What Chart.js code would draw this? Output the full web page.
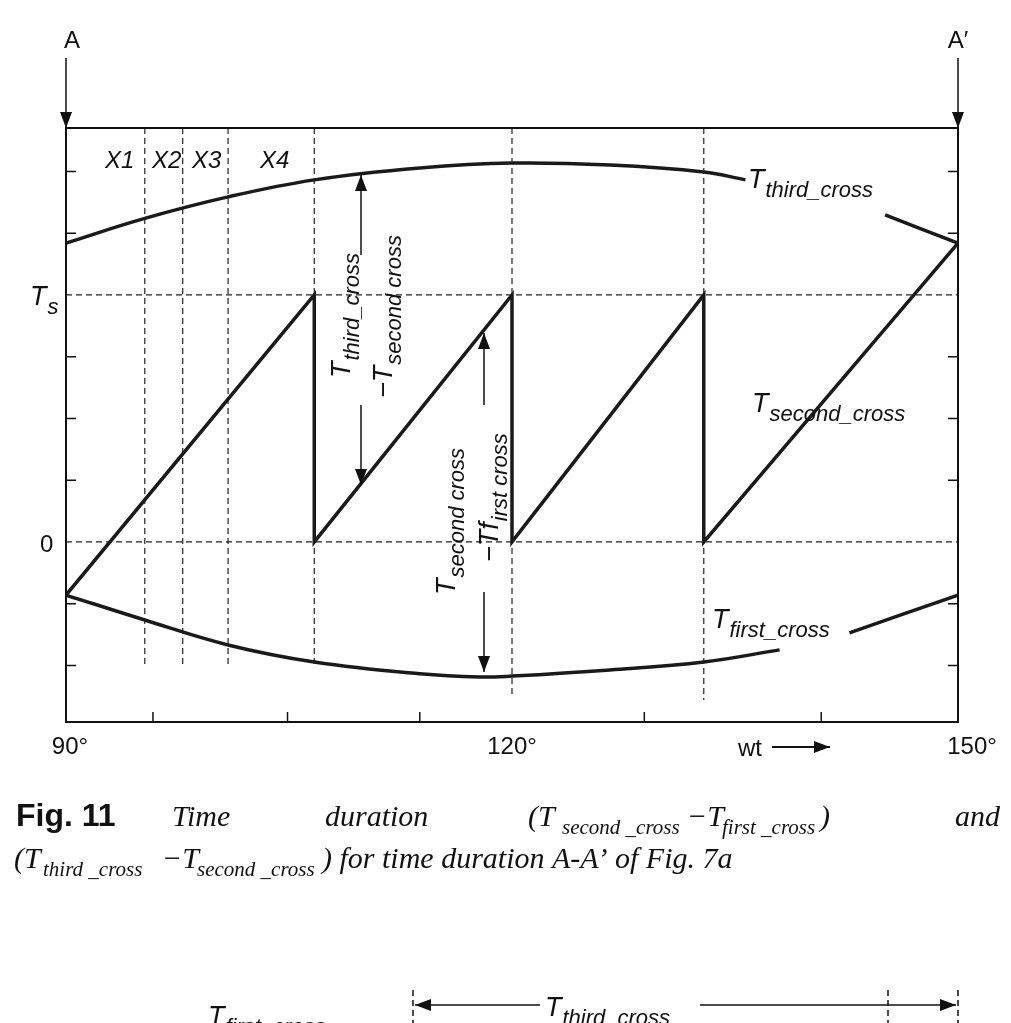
<!DOCTYPE html>
<html><head><meta charset="utf-8">
<script src="https://cdn.jsdelivr.net/npm/chart.js@4"></script>
<style>html,body{margin:0;padding:0;background:#fff}#w{width:1011px;height:1023px}</style>
</head><body><div id="w"><canvas id="c"></canvas></div>
<script>
const sawX=[90,106.7,106.7,120,120,132.9,132.9,150];
const sawY=[-0.215,1,0,1,0,1,0,1.21];
const thirdX=[90,95.3,100.9,106.7,113.8,120,126.6,132.9,135.7,null,145.1,150];
const thirdY=[1.21,1.31,1.397,1.466,1.514,1.534,1.526,1.498,1.466,null,1.324,1.21];
const firstX=[90,95.3,100.9,106.7,113.8,117.8,120,126.6,132.9,138,null,142.7,150];
const firstY=[-0.215,-0.316,-0.417,-0.486,-0.534,-0.547,-0.543,-0.518,-0.486,-0.437,null,-0.368,-0.215];
const xTickLabels=[[90,'90°'],[120,'120°'],[150,'150°']];
const xTicks=[95.85,104.9,113.8,128.9,140.8];
const yTicks=[-0.5,-0.25,0.25,0.5,0.75,1.25,1.5];
const vDash=[[95.3,-0.5],[97.85,-0.5],[100.9,-0.5],[106.7,-0.5],[120,-0.62],[132.9,-0.64]];
const toPts=(xs,ys)=>xs.map((x,i)=>x===null?{x:NaN,y:null}:{x:x,y:ys[i]});
const ds=(d,t)=>({data:d,borderColor:'#1a1a1a',borderWidth:3.5,pointRadius:0,tension:t,spanGaps:false,fill:false});
const sub=(ctx,x,y,main,s,mf,sf)=>{ctx.font=mf;ctx.fillText(main,x,y);const w=ctx.measureText(main).width;ctx.font=sf;ctx.fillText(s,x+w+1,y+9);};
const MF='italic 27px "Liberation Sans"',SF='italic 22px "Liberation Sans"';
function arrow(ctx,x,y1,y2){ctx.beginPath();ctx.moveTo(x,y1);ctx.lineTo(x,y2);ctx.stroke();const d=y2>y1?1:-1;ctx.beginPath();ctx.moveTo(x,y2);ctx.lineTo(x-6,y2-d*16);ctx.lineTo(x+6,y2-d*16);ctx.closePath();ctx.fill();}
function harrow(ctx,x1,x2,y){ctx.beginPath();ctx.moveTo(x1,y);ctx.lineTo(x2,y);ctx.stroke();const d=x2>x1?1:-1;ctx.beginPath();ctx.moveTo(x2,y);ctx.lineTo(x2-d*16,y-6);ctx.lineTo(x2-d*16,y+6);ctx.closePath();ctx.fill();}
const deco={id:'deco',beforeDatasetsDraw(ch){const c=ch.ctx,xs=ch.scales.x,ys=ch.scales.y,a=ch.chartArea;
 const X=v=>xs.getPixelForValue(v),Y=v=>ys.getPixelForValue(v);
 c.save();c.strokeStyle='#222';c.lineWidth=1.2;c.setLineDash([6,4]);
 [0,1].forEach(v=>{c.beginPath();c.moveTo(a.left,Y(v));c.lineTo(a.right,Y(v));c.stroke();});
 vDash.forEach(([x,yb])=>{c.beginPath();c.moveTo(X(x),a.top);c.lineTo(X(x),Y(yb));c.stroke();});
 c.restore();},
 afterDraw(ch){const c=ch.ctx,xs=ch.scales.x,ys=ch.scales.y,a=ch.chartArea;
 const X=v=>xs.getPixelForValue(v),Y=v=>ys.getPixelForValue(v);
 c.save();c.strokeStyle='#111';c.fillStyle='#111';c.lineWidth=2;
 c.strokeRect(a.left,a.top,a.right-a.left,a.bottom-a.top);
 c.lineWidth=1.5;
 yTicks.forEach(v=>{c.beginPath();c.moveTo(a.left,Y(v));c.lineTo(a.left+10,Y(v));c.moveTo(a.right,Y(v));c.lineTo(a.right-10,Y(v));c.stroke();});
 xTicks.forEach(v=>{c.beginPath();c.moveTo(X(v),a.bottom);c.lineTo(X(v),a.bottom-10);c.stroke();});
 c.font='24px "Liberation Sans"';c.textAlign='center';c.textBaseline='alphabetic';
 xTickLabels.forEach(([v,t])=>c.fillText(t,X(v)+(v==150?14:(v==90?4:0)),a.bottom+32));
 c.fillText('A',72,48);c.fillText('A′',958,48);
 arrow(c,a.left,58,a.top);arrow(c,a.right,58,a.top);
 c.textAlign='left';c.fillText('wt',738,756);c.lineWidth=2;harrow(c,772,830,747);
 c.fillText('0',40,552);sub(c,30,305,'T','s',MF,SF);
 c.font='italic 24px "Liberation Sans"';
 [['X1',105],['X2',152],['X3',192],['X4',260]].forEach(([t,x])=>c.fillText(t,x,168));
 sub(c,748,188,'T','third_cross',MF,SF);
 sub(c,752,412,'T','second_cross',MF,SF);
 sub(c,712,628,'T','first_cross',MF,SF);
 const rot=(x,y,fn)=>{c.save();c.translate(x,y);c.rotate(-Math.PI/2);fn();c.restore();};
 rot(350,378,()=>sub(c,0,0,'T','third_cross',MF,SF));
 rot(392,398,()=>sub(c,0,0,'−T','second cross',MF,SF));
 rot(455,595,()=>sub(c,0,0,'T','second cross',MF,SF));
 rot(498,562,()=>sub(c,0,0,'−Tf','irst cross',MF,SF));
 c.lineWidth=1.5;arrow(c,361,255,175);arrow(c,361,405,485);arrow(c,484,405,333);arrow(c,484,592,672);
 c.font='bold 32px "Liberation Sans"';c.fillText('Fig. 11',16,826);
 c.font='italic 30px "Liberation Serif"';c.fillText('Time',172,826);c.fillText('duration',325,826);
 c.fillText('(T',528,826);c.font='italic 21px "Liberation Serif"';c.fillText('second _cross',562,834);
 c.font='italic 30px "Liberation Serif"';c.fillText('−T',687,826);c.font='italic 21px "Liberation Serif"';c.fillText('first _cross',722,834);
 c.font='italic 30px "Liberation Serif"';c.fillText(')',820,826);c.fillText('and',955,826);
 c.fillText('(T',14,868);c.font='italic 21px "Liberation Serif"';c.fillText('third _cross',43,876);
 c.font='italic 30px "Liberation Serif"';c.fillText('−T',162,868);c.font='italic 21px "Liberation Serif"';c.fillText('second _cross',197,876);
 c.font='italic 30px "Liberation Serif"';c.fillText(') for time duration A-A’ of Fig. 7a',322,868);
 sub(c,208,1025,'T','first_cross',MF,SF);
 c.setLineDash([6,4]);[413,888,958].forEach(x=>{c.beginPath();c.moveTo(x,990);c.lineTo(x,1023);c.stroke();});
 c.setLineDash([]);harrow(c,540,415,1005);harrow(c,700,956,1005);
 sub(c,545,1016,'T','third_cross',MF,SF);
 c.restore();}};
new Chart(document.getElementById('c'),{type:'line',
 data:{datasets:[ds(toPts(sawX,sawY),0),ds(toPts(thirdX,thirdY),0.4),ds(toPts(firstX,firstY),0.4)]},
 options:{responsive:true,maintainAspectRatio:false,animation:false,
  layout:{padding:{left:66,top:128,right:53,bottom:301}},
  plugins:{legend:{display:false},tooltip:{enabled:false}},
  scales:{x:{type:'linear',min:90,max:150,display:false},y:{type:'linear',min:-0.729,max:1.676,display:false}}},
 plugins:[deco]});
</script></body></html>
